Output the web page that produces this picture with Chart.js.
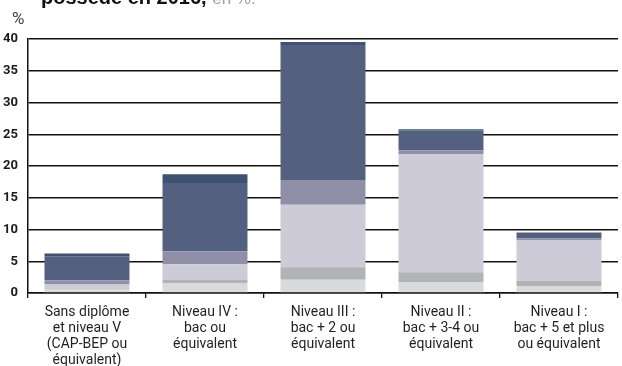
<!DOCTYPE html>
<html>
<head>
<meta charset="utf-8">
<script src="https://cdn.jsdelivr.net/npm/chart.js@4.4.1/dist/chart.umd.min.js"></script>
<style>
  body { margin: 0; background: #fff; }
  #wrap { position: relative; width: 622px; height: 366px; overflow: hidden; }
  #title { position: absolute; left: 41px; top: -13.5px; font: bold 20px "Liberation Sans", Arial, sans-serif; line-height: 20px; color: #111; white-space: nowrap; }
  #title span { font-weight: normal; color: #a0a0a0; font-size: 17px; }
  #unit { position: absolute; left: 12px; top: 8px; font: 17px Roboto, sans-serif; color: #444; }
</style>
</head>
<body>
<div id="wrap">
  <canvas id="chart" width="622" height="366"></canvas>
  <div id="title">possède en 2016, <span>en %.</span></div>
  <div id="unit">%</div>
</div>
<script>
// categories (diploma levels)
const categories = [
    ['Sans diplôme', 'et niveau V', '(CAP-BEP ou', 'équivalent)'],
    ['Niveau IV :', 'bac ou', 'équivalent'],
    ['Niveau III :', 'bac + 2 ou', 'équivalent'],
    ['Niveau II :', 'bac + 3-4 ou', 'équivalent'],
    ['Niveau I :', 'bac + 5 et plus', 'ou équivalent']
];

// stacked segments, bottom to top
const serie1 = [0.67, 1.56, 2.08, 1.72, 1.10];
const serie2 = [0.15, 0.47, 1.98, 1.56, 0.78];
const serie3 = [0.58, 2.50, 9.84, 18.60, 6.40];
const serie4 = [0.62, 2.03, 3.90, 0.62, 0.31];
const serie5 = [3.75, 10.78, 21.25, 3.13, 0.94];
const serie6 = [0.47, 1.36, 0.47, 0.16, 0.00];

const yTicks = [0, 5, 10, 15, 20, 25, 30, 35, 40];

const ctx = document.querySelector('#chart').getContext('2d');

new Chart(ctx, {
    type: 'bar',
    data: {
        labels: categories,
        datasets: [
            { label: 'Série 1', data: serie1, backgroundColor: '#d9dadc' },
            { label: 'Série 2', data: serie2, backgroundColor: '#b2b3b5' },
            { label: 'Série 3', data: serie3, backgroundColor: '#cccbd7' },
            { label: 'Série 4', data: serie4, backgroundColor: '#8f90a8' },
            { label: 'Série 5', data: serie5, backgroundColor: '#536080' },
            { label: 'Série 6', data: serie6, backgroundColor: '#3d5273' }
        ]
    },
    options: {
        responsive: false,
        animation: false,
        layout: { padding: { top: 39, right: 4, left: 0, bottom: 0 } },
        datasets: { bar: { barPercentage: 0.72, categoryPercentage: 1, borderWidth: 0 } },
        plugins: { legend: { display: false }, tooltip: { enabled: false } },
        scales: {
            x: {
                stacked: true,
                afterFit: (s) => { s.height = 73; },
                grid: { offset: true, drawOnChartArea: false, drawTicks: true, tickLength: 5, color: '#111', lineWidth: 1.3 },
                border: { display: true, color: '#111', width: 1.5 },
                ticks: {
                    color: '#231f20',
                    padding: 6,
                    maxRotation: 0,
                    autoSkip: false,
                    font: { family: 'Roboto, sans-serif', size: 14, lineHeight: 1.15 }
                }
            },
            y: {
                stacked: true,
                min: 0,
                max: 40,
                afterFit: (s) => { s.width = 28; },
                afterBuildTicks: (s) => { s.ticks = yTicks.map(v => ({ value: v })); },
                grid: { drawTicks: false, color: '#111', lineWidth: 1.5 },
                border: { display: true, color: '#111', width: 1.5 },
                ticks: {
                    color: '#1a1a1a',
                    padding: 10,
                    font: { family: 'Roboto, sans-serif', size: 13, weight: 'bold' }
                }
            }
        }
    }
});
</script>
</body>
</html>
